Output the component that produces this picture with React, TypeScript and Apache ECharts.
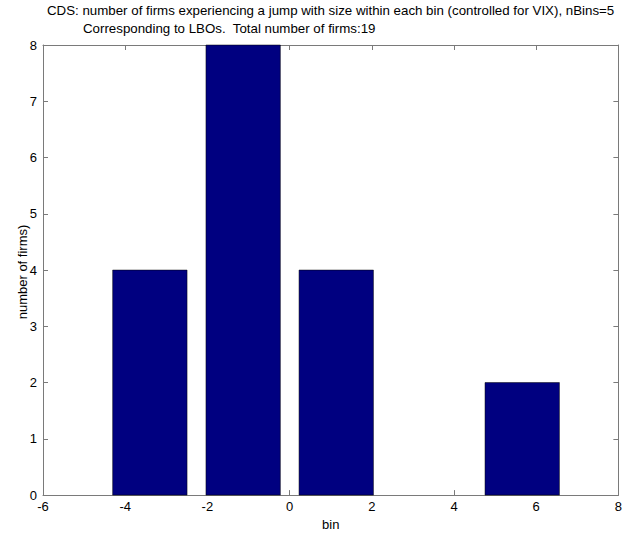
import React, { useEffect, useRef } from "react";
import * as echarts from "echarts";

const binCenters = [-3.4, -1.13, 1.135, 3.4, 5.66];
const counts = [4, 8, 4, 0, 2];
const barWidthUnits = 1.81;
const xTicks = { min: -6, max: 8, interval: 2 };
const yTicks = { min: 0, max: 8, interval: 1 };
const titleLine1 = "CDS: number of firms experiencing a jump with size within each bin (controlled for VIX), nBins=5";
const titleLine2 = "Corresponding to LBOs.  Total number of firms:19";
const xLabel = "bin";
const yLabel = "number of firms)";

const FONT = "Liberation Sans";

export default function App() {
  const ref = useRef<HTMLDivElement>(null);
  useEffect(() => {
    if (!ref.current) return;
    const chart = echarts.init(ref.current, null, { renderer: "svg" });
    const axisColor = "#7a7a7a";
    const baseAxis = {
      type: "value" as const,
      axisLine: { show: true, onZero: false, lineStyle: { color: axisColor, width: 1 } },
      axisTick: { show: true, inside: true, length: 5, lineStyle: { color: axisColor } },
      splitLine: { show: false },
    };
    chart.setOption({
      animation: false,
      backgroundColor: "#fff",
      textStyle: { fontFamily: FONT },
      grid: { left: 43, right: 6, top: 45, bottom: 37, containLabel: false },
      graphic: [
        {
          type: "text",
          left: 47,
          top: 4,
          style: { text: titleLine1, fontSize: 13.3, fontFamily: FONT, fill: "#000" },
        },
        {
          type: "text",
          left: 83,
          top: 22,
          style: { text: titleLine2, fontSize: 13.3, fontFamily: FONT, fill: "#000" },
        },
        {
          type: "text",
          x: 22,
          y: 272,
          rotation: Math.PI / 2,
          style: {
            text: yLabel,
            fontSize: 13,
            fontFamily: FONT,
            fill: "#000",
            align: "center",
            verticalAlign: "middle",
          },
        },
      ],
      xAxis: [
        {
          ...baseAxis,
          position: "bottom",
          min: xTicks.min,
          max: xTicks.max,
          interval: xTicks.interval,
          axisLabel: { color: "#000", fontSize: 13, fontFamily: FONT, margin: 5 },
          name: xLabel,
          nameLocation: "middle",
          nameGap: 22,
          nameTextStyle: { color: "#000", fontSize: 13, fontFamily: FONT },
        },
        {
          ...baseAxis,
          position: "top",
          min: xTicks.min,
          max: xTicks.max,
          interval: xTicks.interval,
          axisLabel: { show: false },
        },
      ],
      yAxis: [
        {
          ...baseAxis,
          position: "left",
          min: yTicks.min,
          max: yTicks.max,
          interval: yTicks.interval,
          axisLabel: { color: "#000", fontSize: 13, fontFamily: FONT, margin: 6 },
        },
        {
          ...baseAxis,
          position: "right",
          min: yTicks.min,
          max: yTicks.max,
          interval: yTicks.interval,
          axisLabel: { show: false },
        },
      ],
      series: [
        {
          type: "custom",
          xAxisIndex: 0,
          yAxisIndex: 0,
          data: binCenters.map((c, i) => [c, counts[i]]),
          renderItem: (params: any, api: any) => {
            const c = api.value(0);
            const v = api.value(1);
            if (!v) return null;
            const p0 = api.coord([c - barWidthUnits / 2, v]);
            const p1 = api.coord([c + barWidthUnits / 2, 0]);
            return {
              type: "rect",
              shape: { x: p0[0], y: p0[1], width: p1[0] - p0[0], height: p1[1] - p0[1] },
              style: { fill: "#000080", stroke: "#000", lineWidth: 0.5 },
            };
          },
        },
      ],
    });
    return () => chart.dispose();
  }, []);
  return <div ref={ref} style={{ width: 625, height: 536, position: "absolute", left: 0, top: 0 }} />;
}
